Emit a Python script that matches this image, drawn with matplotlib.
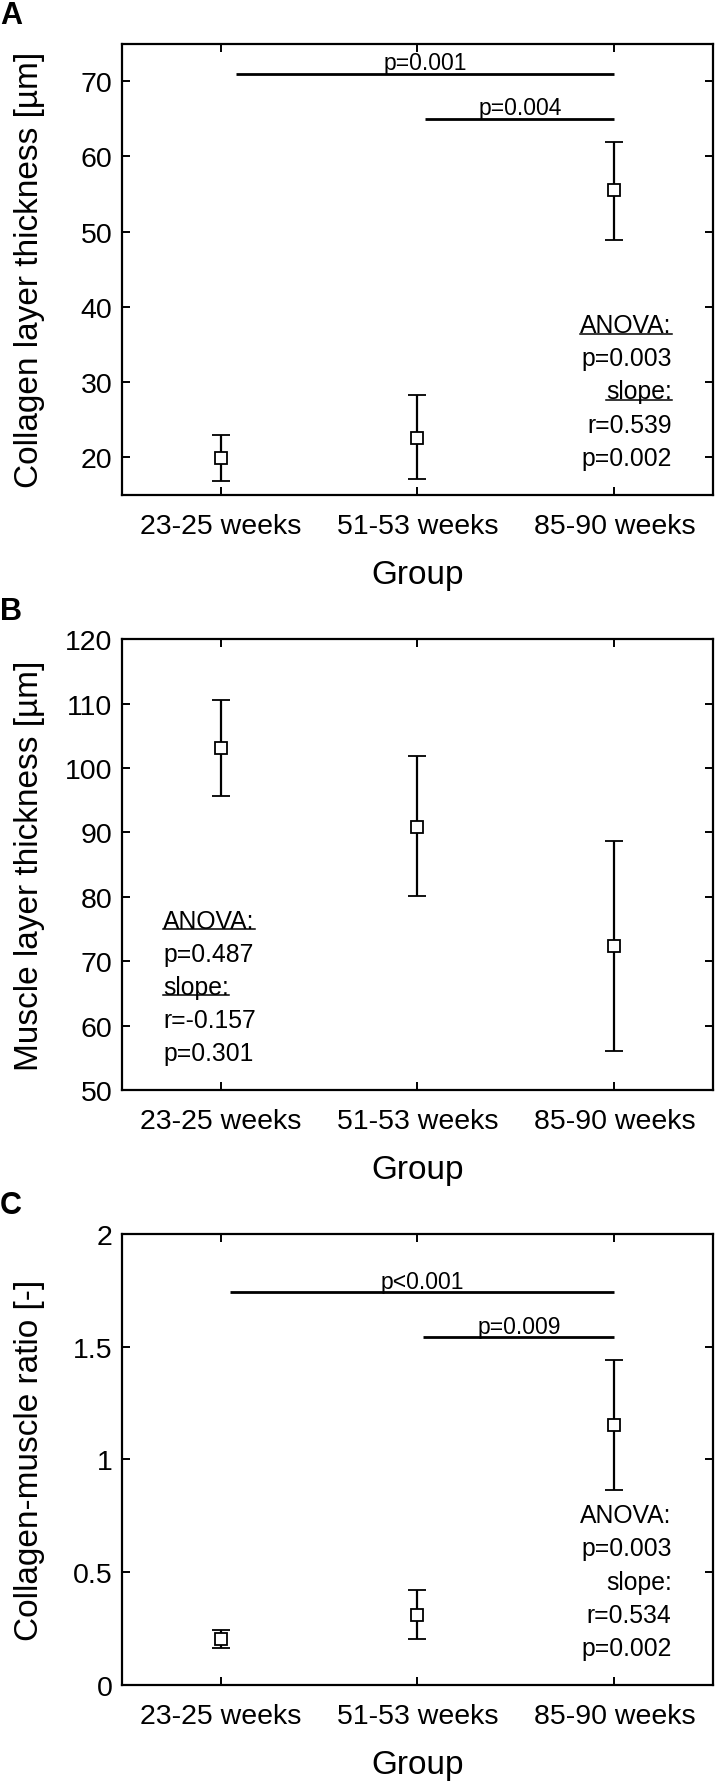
import numpy as np
import matplotlib.pyplot as plt
from matplotlib.lines import Line2D
from matplotlib.ticker import FormatStrFormatter

plt.rcParams['font.family'] = ['Liberation Sans', 'DejaVu Sans']

groups = ['23-25 weeks', '51-53 weeks', '85-90 weeks']

# panel A - collagen layer thickness
collagen_mean = [19.9, 22.6, 55.5]
collagen_low = [16.85, 17.15, 48.9]
collagen_high = [22.9, 28.2, 61.9]
collagen_brackets = [(1.08, 3.0, 71.0, 'p=0.001'), (2.04, 3.0, 65.0, 'p=0.004')]
collagen_stats = ['ANOVA:', 'p=0.003', 'slope:', 'r=0.539', 'p=0.002']

# panel B - muscle layer thickness
muscle_mean = [103.1, 90.9, 72.3]
muscle_low = [95.7, 80.1, 56.1]
muscle_high = [110.5, 101.9, 88.7]
muscle_brackets = []
muscle_stats = ['ANOVA:', 'p=0.487', 'slope:', 'r=-0.157', 'p=0.301']

# panel C - collagen/muscle ratio
ratio_mean = [0.205, 0.31, 1.15]
ratio_low = [0.165, 0.203, 0.862]
ratio_high = [0.242, 0.422, 1.44]
ratio_brackets = [(1.05, 3.0, 1.74, 'p<0.001'), (2.03, 3.0, 1.54, 'p=0.009')]
ratio_stats = ['ANOVA:', 'p=0.003', 'slope:', 'r=0.534', 'p=0.002']

panels = [
    dict(tag='A', mean=collagen_mean, low=collagen_low, high=collagen_high,
         br=collagen_brackets, stats=collagen_stats, underline=True, side='right',
         ylim=(15, 75), yticks=[20, 30, 40, 50, 60, 70],
         ylabel='Collagen layer thickness [µm]', rect=[0.1704, 0.7220, 0.8254, 0.2530]),
    dict(tag='B', mean=muscle_mean, low=muscle_low, high=muscle_high,
         br=muscle_brackets, stats=muscle_stats, underline=True, side='left',
         ylim=(50, 120), yticks=[50, 60, 70, 80, 90, 100, 110, 120],
         ylabel='Muscle layer thickness [µm]', rect=[0.1704, 0.3881, 0.8254, 0.2528]),
    dict(tag='C', mean=ratio_mean, low=ratio_low, high=ratio_high,
         br=ratio_brackets, stats=ratio_stats, underline=False, side='right',
         ylim=(0, 2), yticks=[0, 0.5, 1, 1.5, 2],
         ylabel='Collagen-muscle ratio [-]', rect=[0.1704, 0.0545, 0.8254, 0.2530]),
]

fig = plt.figure(figsize=(7.16, 17.83), dpi=100)
x = np.arange(1, len(groups) + 1)
to_underline = []

for p in panels:
    ax = fig.add_axes(p['rect'])
    mean = np.array(p['mean'])
    yerr = [mean - np.array(p['low']), np.array(p['high']) - mean]
    ax.errorbar(x, mean, yerr=yerr, fmt='s', color='black', mfc='white', mec='black',
                ms=8, mew=1.3, elinewidth=1.6, capsize=6.6, capthick=1.6)

    # significance bars
    for x0, x1, yb, lab in p['br']:
        ax.plot([x0, x1], [yb, yb], color='black', lw=2.0, solid_capstyle='butt')
        ax.annotate(lab, ((x0 + x1) / 2, yb), xytext=(0, 3.5), textcoords='offset points',
                    ha='center', va='baseline', fontsize=16.5)

    # statistics block
    if p['side'] == 'right':
        tx, ha = 0.93, 'right'
    else:
        tx, ha = 0.07, 'left'
    for i, s in enumerate(p['stats']):
        t = ax.text(tx, 0.376 - i * 0.0735, s, transform=ax.transAxes,
                    ha=ha, va='center', fontsize=17.8)
        if p['underline'] and s.endswith(':'):
            to_underline.append(t)

    ax.set_xlim(0.5, 3.5)
    ax.set_ylim(*p['ylim'])
    ax.set_xticks(x)
    ax.set_xticklabels(groups)
    ax.set_yticks(p['yticks'])
    ax.yaxis.set_major_formatter(FormatStrFormatter('%g'))
    ax.tick_params(direction='in', top=True, right=True, length=6, width=1.4,
                   labelsize=20.5)
    ax.tick_params(axis='x', pad=13)
    ax.tick_params(axis='y', pad=7)
    for sp in ax.spines.values():
        sp.set_linewidth(1.6)
    ax.set_ylabel(p['ylabel'], fontsize=24)
    ax.yaxis.set_label_coords(-0.131, 0.5)
    ax.set_xlabel('Group', fontsize=24)
    ax.xaxis.set_label_coords(0.5, -0.142)

    top = p['rect'][1] + p['rect'][3]
    fig.text(0.0, top + 0.016, p['tag'], fontsize=22, fontweight='bold',
             ha='left', va='center')

# underline the headings using their rendered extents
fig.canvas.draw()
r = fig.canvas.get_renderer()
for t in to_underline:
    bb = t.get_window_extent(r)
    yline = bb.y0 + 0.14 * bb.height
    fig.add_artist(Line2D([bb.x0, bb.x1], [yline, yline], transform=None,
                          color='black', lw=1.1))

fig.savefig('out.png', dpi=100)
